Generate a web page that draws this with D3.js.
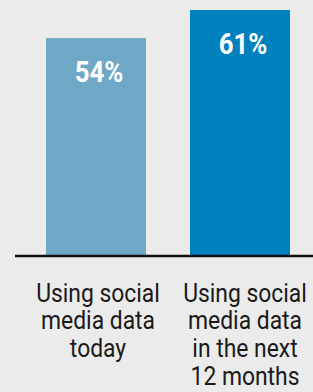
<!doctype html>
<html>
<head>
	<meta charset="utf-8">
	<title>Social media data</title>
	<script src="https://d3js.org/d3.v7.min.js"></script>
	<style>
		body { margin: 0; background: #ebebeb; }
		svg { display: block; }
	</style>
</head>
<body>
	<div id="chart"></div>
	<script>
		// values
		const categories = ['today', 'next12'];
		const values = [54, 61];
		const labelLines = [
			['Using social', 'media data', 'today'],
			['Using social', 'media data', 'in the next', '12 months']
		];
		const barColors = ['#6fa7c6', '#0081bd'];

		const width = 313;
		const height = 392;
		const baseY = 255;

		const svg = d3.select('#chart').append('svg')
			.attr('width', width)
			.attr('height', height);

		svg.append('rect')
			.attr('width', width)
			.attr('height', height)
			.attr('fill', '#ebebeb');

		// x: two bars, 100px wide with a 44px gap
		const x = d3.scaleBand()
			.domain(categories)
			.range([46, 290])
			.paddingInner(44 / 144)
			.paddingOuter(0);

		// y: 0 sits on the baseline
		const y = d3.scaleLinear()
			.domain([0, 61])
			.range([baseY, 10]);

		svg.selectAll('.bar')
			.data(values)
			.enter().append('rect')
			.attr('class', 'bar')
			.attr('x', (d, i) => x(categories[i]))
			.attr('width', x.bandwidth())
			.attr('y', d => y(d))
			.attr('height', d => baseY - y(d))
			.attr('fill', (d, i) => barColors[i]);

		// value labels inside the bars (condensed look via scaleX)
		svg.selectAll('.value')
			.data(values)
			.enter().append('text')
			.attr('class', 'value')
			.attr('transform', (d, i) => 'translate(' + (x(categories[i]) + x.bandwidth() / 2 + 3) + ',' + (y(d) + 44) + ') scale(0.86,1)')
			.attr('text-anchor', 'middle')
			.style('font-family', 'Roboto, sans-serif')
			.style('font-weight', 'bold')
			.style('font-size', '30px')
			.attr('fill', '#ffffff')
			.text(d => d + '%');

		// baseline
		svg.append('line')
			.attr('x1', 15)
			.attr('x2', width)
			.attr('y1', baseY + 1)
			.attr('y2', baseY + 1)
			.attr('stroke', '#111')
			.attr('stroke-width', 2.5);

		// category labels under the axis
		const lab = svg.selectAll('.cat')
			.data(labelLines)
			.enter().append('text')
			.attr('class', 'cat')
			.attr('transform', (d, i) => 'translate(' + (x(categories[i]) + x.bandwidth() / 2 + (i === 0 ? 2 : 5)) + ',301.5) scale(0.88,1)')
			.attr('text-anchor', 'middle')
			.style('font-family', 'Roboto, sans-serif')
			.style('font-size', '26px')
			.attr('fill', '#1a1a1a');

		lab.selectAll('tspan')
			.data(d => d)
			.enter().append('tspan')
			.attr('x', 0)
			.attr('dy', (d, i) => i === 0 ? 0 : 28)
			.text(d => d);
	</script>
</body>
</html>
